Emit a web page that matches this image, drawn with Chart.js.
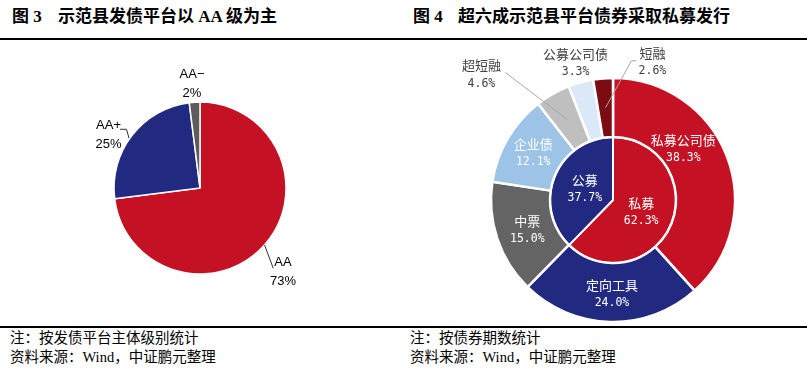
<!DOCTYPE html>
<html>
<head>
<meta charset="utf-8">
<script src="https://cdn.jsdelivr.net/npm/chart.js@4/dist/chart.umd.min.js"></script>
<style>
  body { margin: 0; width: 807px; height: 372px; background: #fff; position: relative; overflow: hidden;
         font-family: "Liberation Serif", "Noto Sans CJK SC", serif; color: #000; }
  .t { position: absolute; top: 6px; font-size: 17px; font-weight: bold; line-height: 22px; white-space: nowrap; }
  .rule { position: absolute; left: 0; width: 807px; height: 2px; background: #000; }
  .note { position: absolute; font-size: 14.5px; line-height: 19px; white-space: nowrap; }
  .box { position: absolute; top: 40px; height: 285px; }
</style>
</head>
<body>
<div class="t" style="left:12px">图 3</div>
<div class="t" style="left:58px">示范县发债平台以 AA 级为主</div>
<div class="t" style="left:413px">图 4</div>
<div class="t" style="left:458px">超六成示范县平台债券采取私募发行</div>
<div class="rule" style="top:38px"></div>

<div class="box" style="left:0;width:400px"><canvas id="ratingChart"></canvas></div>
<div class="box" style="left:400px;width:407px"><canvas id="bondChart"></canvas></div>

<div class="rule" style="top:326px"></div>
<div class="note" style="left:10px;top:329px">注：按发债平台主体级别统计<br>资料来源：Wind，中证鹏元整理</div>
<div class="note" style="left:410px;top:329px">注：按债券期数统计<br>资料来源：Wind，中证鹏元整理</div>

<script>
// 图3 主体级别
const ratingLabels = ['AA', 'AA+', 'AA−'];
const ratingShares = [73, 25, 2];

// 图4 外圈：债券品种
const bondTypes = ['私募公司债', '定向工具', '中票', '企业债', '超短融', '公募公司债', '短融'];
const bondShares = [38.3, 24.0, 15.0, 12.1, 4.6, 3.3, 2.6];

// 图4 内圈：发行方式
const issueTypes = ['私募', '公募'];
const issueShares = [62.3, 37.7];

// draws the labels next to / inside each slice, positioned from the arc elements
const sliceLabels = {
  id: 'sliceLabels',
  afterDraw(chart, args, opts) {
    const ctx = chart.ctx;
    ctx.save();
    opts.items.forEach(item => {
      const arc = chart.getDatasetMeta(item.ds).data[item.i];
      const p = arc.getProps(['x', 'y', 'startAngle', 'endAngle', 'innerRadius', 'outerRadius'], true);
      const a = (p.startAngle + p.endAngle) / 2;
      const r = item.at === 'edge' ? p.outerRadius : (p.innerRadius + p.outerRadius) / 2;
      const ax = p.x + Math.cos(a) * r, ay = p.y + Math.sin(a) * r;
      const cx = ax + item.dx, cy = ay + item.dy;

      if (item.leader) {
        ctx.strokeStyle = opts.leaderColor;
        ctx.lineWidth = 1;
        ctx.beginPath();
        item.leader.forEach((pt, k) => {
          if (k === 0) ctx.moveTo(cx + pt[0], cy + pt[1]);
          else ctx.lineTo(cx + pt[0], cy + pt[1]);
        });
        const end = item.end || [0, 0];
        ctx.lineTo(ax + end[0], ay + end[1]);
        ctx.stroke();
      }

      const ds = chart.data.datasets[item.ds];
      ctx.fillStyle = item.color || opts.color;
      ctx.textAlign = 'center';
      ctx.textBaseline = 'middle';
      ctx.font = opts.nameFont;
      ctx.fillText(ds.names[item.i], cx, cy - opts.gap / 2);
      ctx.font = opts.valueFont;
      ctx.fillText(opts.format(ds.data[item.i]), cx, cy + opts.gap / 2);
    });
    ctx.restore();
  }
};

new Chart(document.getElementById('ratingChart'), {
  type: 'pie',
  data: {
    labels: ratingLabels,
    datasets: [{
      data: ratingShares,
      names: ratingLabels,
      backgroundColor: ['#C41224', '#212A80', '#5C5C5C'],
      borderColor: '#fff',
      borderWidth: 1.5
    }]
  },
  options: {
    responsive: true,
    maintainAspectRatio: false,
    animation: false,
    radius: 86,
    layout: { padding: { left: 114, right: 114, top: 62, bottom: 51 } },
    plugins: {
      legend: { display: false },
      tooltip: { enabled: false },
      sliceLabels: {
        color: '#000',
        leaderColor: '#333',
        nameFont: '13px "Liberation Sans Narrow", "Liberation Sans", sans-serif',
        valueFont: '13px "Liberation Sans Narrow", "Liberation Sans", sans-serif',
        gap: 19,
        format: v => v + '%',
        items: [
          { ds: 0, i: 0, at: 'edge', dx: 18.5, dy: 26.7, leader: [[-9.7, -3.2]] },
          { ds: 0, i: 1, at: 'edge', dx: -23.5, dy: -0.8, leader: [[11.5, -5.2], [18, -5.2]], end: [-3, 3] },
          { ds: 0, i: 2, at: 'edge', dx: -2.6, dy: -18 }
        ]
      }
    }
  },
  plugins: [sliceLabels]
});

new Chart(document.getElementById('bondChart'), {
  type: 'doughnut',
  data: {
    labels: bondTypes,
    datasets: [{
      data: bondShares,
      names: bondTypes,
      weight: 59,
      backgroundColor: ['#C41224', '#212A80', '#646464', '#9DC3E6', '#BFBFBF', '#DAE8F7', '#7B0C14'],
      borderColor: '#fff',
      borderWidth: 2.5
    }, {
      data: issueShares,
      names: issueTypes,
      weight: 63,
      backgroundColor: ['#C41224', '#212A80'],
      borderColor: '#fff',
      borderWidth: 2
    }]
  },
  options: {
    responsive: true,
    maintainAspectRatio: false,
    animation: false,
    radius: 122,
    cutout: 0,
    layout: { padding: { left: 91, right: 72, top: 38, bottom: 3 } },
    plugins: {
      legend: { display: false },
      tooltip: { enabled: false },
      sliceLabels: {
        color: '#fff',
        leaderColor: '#A6A6A6',
        nameFont: '13px "Noto Sans CJK SC", sans-serif',
        valueFont: '11.5px "DejaVu Sans Mono", monospace',
        gap: 18,
        format: v => v.toFixed(1) + '%',
        items: [
          { ds: 0, i: 0, dx: -16, dy: -18 },
          { ds: 0, i: 1, dx: 1, dy: 1.5 },
          { ds: 0, i: 2, dx: 2, dy: 0.5 },
          { ds: 0, i: 3, dx: 0, dy: 0 },
          { ds: 0, i: 4, dx: -86, dy: -45, color: '#404040', leader: [[24, -2]] },
          { ds: 0, i: 5, dx: -13, dy: -48, color: '#404040' },
          { ds: 0, i: 6, dx: 47, dy: -46, color: '#404040', leader: [[-16, -1], [-21, -1]] },
          { ds: 1, i: 0, dx: -1, dy: 0 },
          { ds: 1, i: 1, dx: 1, dy: 1 }
        ]
      }
    }
  },
  plugins: [sliceLabels]
});
</script>
</body>
</html>
